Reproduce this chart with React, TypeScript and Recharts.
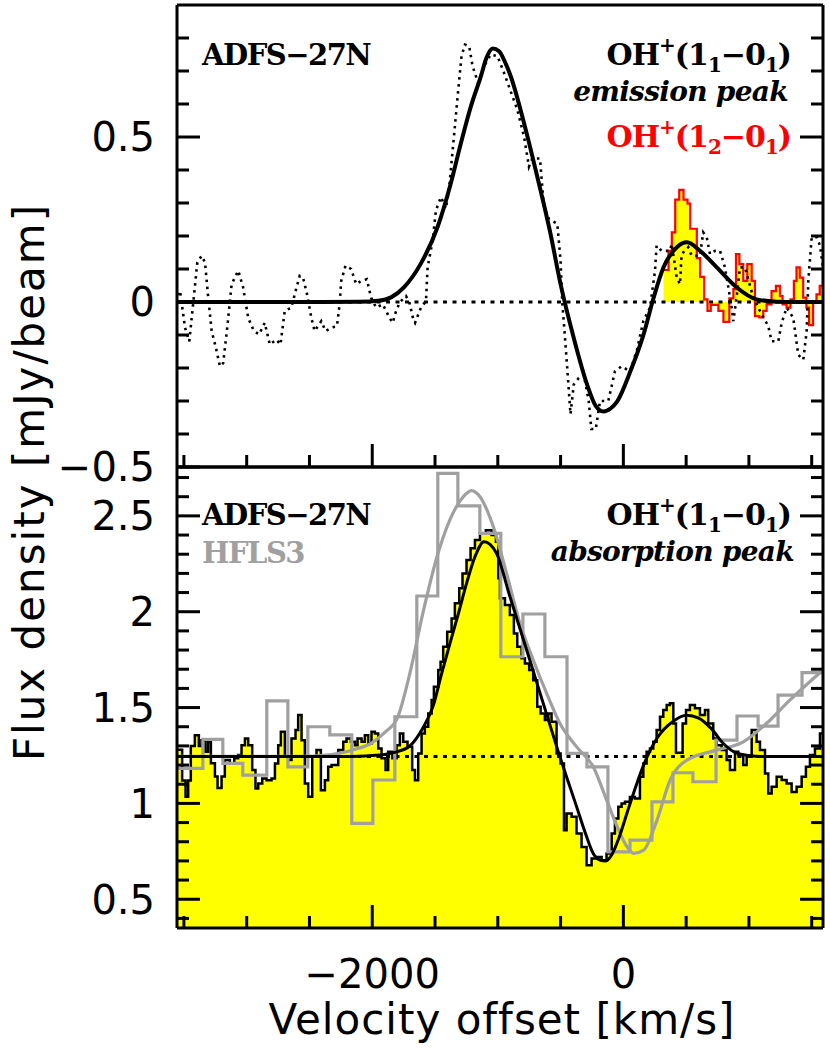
import React from 'react';
import { ComposedChart, Line, Area, XAxis, YAxis, ReferenceLine } from 'recharts';

type Pair = [number, number];

// ---------- axes ----------
const velocityDomain: [number, number] = [-3555, 1590];
const topFluxDomain: [number, number] = [-0.5, 0.9];
const bottomFluxDomain: [number, number] = [0.35, 2.755];

const xMajorTicks = [-2000, 0];
const xMinorTicks = [-3500, -3000, -2500, -1500, -1000, -500, 500, 1000, 1500];
const topMajorTicks = [-0.5, 0, 0.5];
const topMinorTicks = [-0.4, -0.3, -0.2, -0.1, 0.1, 0.2, 0.3, 0.4, 0.6, 0.7, 0.8];
const bottomMajorTicks = [0.5, 1, 1.5, 2, 2.5];
const bottomMinorTicks = [0.4, 0.6, 0.7, 0.8, 0.9, 1.1, 1.2, 1.3, 1.4, 1.6, 1.7, 1.8, 1.9, 2.1, 2.2, 2.3, 2.4, 2.6, 2.7];

const topBaseline = 0;
const bottomBaseline = 1.245;

// ---------- top panel: OH+(1_1-0_1) emission peak ----------
const emissionSpectrum: Pair[] = [
  [-3555, 0.0], [-3531, 0.034], [-3491, -0.078], [-3457, -0.119], [-3425, 0.0], [-3393, 0.12],
  [-3359, 0.14], [-3332, 0.12], [-3306, 0.013], [-3279, -0.088], [-3245, -0.139], [-3213, -0.195],
  [-3187, -0.185], [-3155, -0.078], [-3120, 0.054], [-3067, 0.095], [-3028, 0.044], [-2988, -0.048],
  [-2943, -0.088], [-2901, -0.098], [-2856, -0.063], [-2816, -0.129], [-2763, -0.114], [-2731, -0.129],
  [-2697, -0.027], [-2644, -0.017], [-2610, 0.034], [-2578, 0.079], [-2551, 0.074], [-2519, 0.023],
  [-2485, -0.048], [-2459, -0.088], [-2406, -0.058], [-2372, -0.088], [-2326, -0.078], [-2281, -0.073],
  [-2260, -0.007], [-2247, 0.064], [-2213, 0.11], [-2168, 0.1], [-2128, 0.054], [-2088, 0.064],
  [-2043, 0.069], [-2009, 0.013], [-1969, -0.017], [-1916, -0.007], [-1863, -0.048], [-1837, -0.063],
  [-1810, -0.027], [-1779, 0.0], [-1731, 0.018], [-1705, 0.0], [-1673, -0.053], [-1659, -0.063],
  [-1612, -0.017], [-1572, 0.003], [-1559, 0.105], [-1519, 0.186], [-1493, 0.277], [-1453, 0.318],
  [-1413, 0.283], [-1387, 0.348], [-1347, 0.511], [-1320, 0.623], [-1289, 0.745], [-1262, 0.78],
  [-1228, 0.775], [-1201, 0.715], [-1157, 0.664], [-1109, 0.715], [-1056, 0.75], [-1003, 0.745],
  [-950, 0.694], [-897, 0.638], [-844, 0.582], [-791, 0.501], [-752, 0.41], [-725, 0.435],
  [-664, 0.435], [-633, 0.288], [-593, 0.252], [-526, 0.237], [-500, 0.125], [-487, 0.0],
  [-474, -0.063], [-447, -0.2], [-421, -0.34], [-395, -0.25], [-355, -0.23], [-315, -0.22],
  [-276, -0.3], [-255, -0.385], [-220, -0.385], [-186, -0.3], [-120, -0.3], [-67, -0.21],
  [-14, -0.195], [53, -0.21], [106, -0.149], [159, -0.058], [212, -0.017], [252, 0.095],
  [265, 0.171], [305, 0.155], [371, 0.155], [385, 0.176], [425, 0.074], [451, 0.054],
  [464, 0.145], [517, 0.166], [544, 0.14], [610, 0.14], [636, 0.211], [664, 0.196],
  [690, 0.145], [730, 0.155], [770, 0.155], [809, 0.105], [863, -0.017], [876, -0.058],
  [897, 0.0], [929, 0.105], [969, 0.105], [1035, 0.013], [1088, -0.027], [1154, -0.073],
  [1181, -0.119], [1234, -0.119], [1261, -0.063], [1301, -0.017], [1353, -0.048], [1393, -0.16],
  [1433, -0.175], [1460, -0.088], [1473, 0.064], [1500, 0.196], [1540, 0.196], [1566, 0.171], [1590, 0.105],
];

const emissionFit: Pair[] = [
  [-3555, 0], [-2400, 0], [-2100, 0.001], [-1950, 0.004], [-1850, 0.014], [-1744, 0.046],
  [-1612, 0.117], [-1479, 0.228], [-1374, 0.36], [-1294, 0.481], [-1215, 0.592], [-1135, 0.684],
  [-1090, 0.74], [-1040, 0.768], [-990, 0.76], [-940, 0.725], [-897, 0.684], [-791, 0.542],
  [-685, 0.379], [-580, 0.206], [-500, 0.054], [-395, -0.109], [-288, -0.251], [-220, -0.315],
  [-160, -0.332], [-100, -0.322], [-50, -0.302], [56, -0.21], [161, -0.098], [241, 0.013],
  [320, 0.105], [426, 0.166], [506, 0.181], [611, 0.155], [744, 0.105], [903, 0.044],
  [1062, 0.008], [1220, 0.001], [1400, 0], [1590, 0],
];

const oh12Histogram: Pair[] = [
  [320, 0.097], [360, 0.155], [386, 0.211], [413, 0.31], [445, 0.34], [479, 0.31], [511, 0.298],
  [532, 0.222], [585, 0.133], [611, 0.076], [643, 0.008], [670, -0.027], [696, -0.009], [757, -0.027],
  [797, -0.06], [844, 0.011], [876, 0.039], [897, 0.145], [924, 0.115], [955, 0.064], [987, 0.115],
  [1022, 0.064], [1048, -0.043], [1083, -0.047], [1114, -0.027], [1141, -0.007], [1180, 0.033],
  [1215, 0.049], [1247, 0.018], [1268, -0.007], [1300, -0.017], [1331, 0.008], [1358, 0.064],
  [1379, 0.105], [1405, 0.074], [1432, 0.013], [1458, -0.017], [1479, -0.07], [1511, -0.002],
  [1538, 0.023], [1564, 0.049], [1590, 0.049],
];

// ---------- bottom panel: absorption peak ----------
const adfsHistogram: Pair[] = [
  [-3555, 1.28], [-3514, 1.12], [-3487, 1.035], [-3466, 1.12], [-3445, 1.3], [-3413, 1.356],
  [-3381, 1.3], [-3360, 1.33], [-3328, 1.27], [-3307, 1.32], [-3285, 1.21], [-3253, 1.14],
  [-3232, 1.08], [-3200, 1.14], [-3174, 1.226], [-3134, 1.21], [-3099, 1.235], [-3068, 1.252],
  [-3041, 1.304], [-3014, 1.339], [-2988, 1.304], [-2956, 1.174], [-2930, 1.078], [-2908, 1.104],
  [-2876, 1.13], [-2842, 1.121], [-2802, 1.13], [-2775, 1.208], [-2749, 1.304], [-2728, 1.374],
  [-2696, 1.243], [-2669, 1.226], [-2643, 1.339], [-2611, 1.383], [-2590, 1.461], [-2563, 1.33],
  [-2537, 1.104], [-2510, 1.035], [-2478, 1.243], [-2444, 1.278], [-2409, 1.069], [-2377, 1.121],
  [-2351, 1.191], [-2324, 1.2], [-2271, 1.278], [-2231, 1.322], [-2205, 1.339], [-2170, 1.322],
  [-2138, 1.304], [-2117, 1.339], [-2085, 1.322], [-2059, 1.356], [-2032, 1.313], [-2006, 1.374],
  [-1979, 1.365], [-1952, 1.287], [-1926, 1.235], [-1894, 1.174], [-1873, 1.27], [-1841, 1.235],
  [-1806, 1.304], [-1780, 1.365], [-1753, 1.322], [-1719, 1.296], [-1682, 1.174], [-1660, 1.121],
  [-1634, 1.261], [-1607, 1.365], [-1581, 1.4], [-1554, 1.469], [-1527, 1.539], [-1509, 1.609],
  [-1474, 1.696], [-1456, 1.739], [-1435, 1.817], [-1403, 1.896], [-1368, 1.965], [-1342, 2.044],
  [-1307, 2.122], [-1281, 2.2], [-1249, 2.27], [-1217, 2.331], [-1182, 2.374], [-1142, 2.409],
  [-1095, 2.425], [-1050, 2.4], [-1015, 2.365], [-996, 2.174], [-983, 2.07], [-943, 2.035],
  [-904, 1.983], [-872, 1.887], [-845, 1.817], [-811, 1.757], [-784, 1.73], [-750, 1.696],
  [-718, 1.643], [-686, 1.504], [-659, 1.469], [-625, 1.435], [-598, 1.469], [-572, 1.426],
  [-532, 1.261], [-500, 1.208], [-473, 0.86], [-452, 0.947], [-412, 0.93], [-373, 0.843],
  [-333, 0.773], [-293, 0.678], [-253, 0.713], [-213, 0.721], [-173, 0.704], [-134, 0.739],
  [-93, 0.843], [-67, 0.921], [-40, 0.982], [-14, 1.0], [13, 1.008], [52, 1.034],
  [92, 1.026], [132, 1.139], [159, 1.208], [185, 1.269], [212, 1.287], [238, 1.322],
  [265, 1.383], [292, 1.452], [318, 1.487], [345, 1.513], [371, 1.522], [398, 1.417],
  [419, 1.264], [472, 1.417], [499, 1.487], [530, 1.513], [570, 1.496], [610, 1.461],
  [650, 1.487], [676, 1.417], [716, 1.339], [743, 1.304], [783, 1.278], [822, 1.226],
  [849, 1.174], [889, 1.269], [915, 1.252], [955, 1.2], [982, 1.243], [1022, 1.383],
  [1061, 1.322], [1088, 1.278], [1128, 1.156], [1154, 1.052], [1181, 1.087], [1221, 1.139],
  [1261, 1.122], [1300, 1.104], [1340, 1.06], [1380, 1.087], [1420, 1.139], [1454, 1.191],
  [1486, 1.252], [1526, 1.287], [1566, 1.365], [1590, 1.365],
];

const adfsFit: Pair[] = [
  [-3555, 1.245], [-2200, 1.245], [-2000, 1.25], [-1900, 1.255], [-1800, 1.27], [-1700, 1.3],
  [-1600, 1.39], [-1514, 1.51], [-1450, 1.67], [-1381, 1.835], [-1310, 2.0], [-1249, 2.148],
  [-1180, 2.29], [-1110, 2.365], [-1060, 2.35], [-1010, 2.305], [-903, 2.078], [-770, 1.8],
  [-638, 1.522], [-505, 1.243], [-372, 0.982], [-300, 0.84], [-240, 0.739], [-186, 0.705],
  [-140, 0.7], [-90, 0.735], [-30, 0.83], [29, 0.95], [100, 1.09], [161, 1.2], [268, 1.34],
  [400, 1.43], [504, 1.46], [600, 1.445], [700, 1.39], [800, 1.31], [903, 1.262], [1000, 1.25],
  [1100, 1.245], [1590, 1.245],
];

const hflsHistogram: Pair[] = [
  [-3555, 1.183], [-3349, 1.334], [-3190, 1.209], [-3031, 1.148], [-2840, 1.535], [-2672, 1.191],
  [-2513, 1.4], [-2338, 1.357], [-2163, 0.896], [-1995, 1.122], [-1820, 1.452], [-1645, 2.082],
  [-1478, 2.722], [-1318, 2.552], [-1143, 2.409], [-976, 1.765], [-800, 1.988], [-625, 1.765],
  [-449, 1.261], [-290, 1.191], [-123, 0.747], [53, 0.808], [228, 1.008], [395, 1.16],
  [554, 1.113], [738, 1.33], [905, 1.456], [1073, 1.403], [1232, 1.565], [1423, 1.682], [1590, 1.682],
];

const hflsFit: Pair[] = [
  [-3555, 1.245], [-2600, 1.245], [-2326, 1.255], [-2150, 1.28], [-2009, 1.313], [-1900, 1.37],
  [-1797, 1.45], [-1700, 1.68], [-1594, 2.0], [-1487, 2.28], [-1381, 2.48], [-1275, 2.6],
  [-1210, 2.632], [-1142, 2.6], [-1036, 2.444], [-930, 2.2], [-824, 1.94], [-718, 1.748],
  [-611, 1.574], [-505, 1.417], [-372, 1.295], [-240, 1.191], [-133, 1.017], [-50, 0.88],
  [29, 0.774], [82, 0.739], [161, 0.756], [268, 0.913], [373, 1.122], [506, 1.226],
  [744, 1.278], [955, 1.321], [1141, 1.418], [1326, 1.539], [1590, 1.696],
];

// ---------- helpers ----------
const toRows = (pairs: Pair[]) => pairs.map(([v, f]) => ({ v, f }));
const fmt = (val: number) => (val < 0 ? '\u2212' + String(Math.abs(val)) : String(val));

const SANS = "'DejaVu Sans', sans-serif";
const SERIF = "'DejaVu Serif', serif";
const frameLine = { stroke: '#000', strokeWidth: 3 };
const YELLOW = '#ffff00';
const GRAY = '#a0a0a0';
const MAJOR = 23;
const MINOR = 12;

type Side = 'left' | 'right' | 'top' | 'bottom';

// tick renderer: draws an inward tick mark at the position that the axis gives, and the label if asked
const makeTick = (side: Side, major: number[], withLabel: boolean) => (props: any) => {
  const { x, y, payload } = props;
  const value: number = payload.value;
  const isMajor = major.some((m) => Math.abs(m - value) < 1e-9);
  const len = isMajor ? MAJOR : MINOR;
  const dx = side === 'left' ? len : side === 'right' ? -len : 0;
  const dy = side === 'top' ? len : side === 'bottom' ? -len : 0;
  let label: React.ReactNode = null;
  if (withLabel && isMajor) {
    if (side === 'left') {
      label = (
        <text x={x - 22} y={y} dy="0.36em" textAnchor="end" fontFamily={SANS} fontSize={40} fill="#000">{fmt(value)}</text>
      );
    } else if (side === 'bottom') {
      label = (
        <text x={x} y={y + 32} dy="0.71em" textAnchor="middle" fontFamily={SANS} fontSize={40} fill="#000">{fmt(value)}</text>
      );
    }
  }
  return (
    <g>
      <line x1={x} y1={y} x2={x + dx} y2={y + dy} stroke="#000" strokeWidth={3} />
      {label}
    </g>
  );
};

function frameAxes(yDomain: [number, number], yMajor: number[], yMinor: number[], showXLabels: boolean) {
  const common = {
    type: 'number' as const,
    allowDataOverflow: true,
    interval: 0 as const,
    tickSize: 0,
    tickMargin: 0,
    tickLine: false,
    axisLine: frameLine,
  };
  const xTicks = [...xMajorTicks, ...xMinorTicks].sort((a, b) => a - b);
  const yTicks = [...yMajor, ...yMinor].sort((a, b) => a - b);
  return [
    <XAxis key="xb" xAxisId="x" dataKey="v" orientation="bottom" {...common} domain={velocityDomain}
      ticks={xTicks} height={1} tick={makeTick('bottom', xMajorTicks, showXLabels)} />,
    <XAxis key="xt" xAxisId="xt" orientation="top" {...common} domain={velocityDomain}
      ticks={xTicks} height={1} tick={makeTick('top', xMajorTicks, false)} />,
    <YAxis key="yl" yAxisId="y" orientation="left" {...common} domain={yDomain}
      ticks={yTicks} width={1} tick={makeTick('left', yMajor, true)} />,
    <YAxis key="yr" yAxisId="yr" orientation="right" {...common} domain={yDomain}
      ticks={yTicks} width={1} tick={makeTick('right', yMajor, false)} />,
  ];
}

const W = 830;
const H = 1048;
const layer: React.CSSProperties = { position: 'absolute', left: 0, top: 0, width: W, height: H };

function OHLabel({ x, y, upper, fill }: { x: number; y: number; upper: string; fill: string }) {
  return (
    <text x={x} y={y} textAnchor="end" fontFamily={SERIF} fontWeight="bold" fontSize={30} letterSpacing={-1} fill={fill}>
      OH<tspan dy={-13} fontSize={20}>+</tspan>
      <tspan dy={13}>(1</tspan>
      <tspan dy={7} fontSize={20}>{upper}</tspan>
      <tspan dy={-7}>{'\u22120'}</tspan>
      <tspan dy={7} fontSize={20}>1</tspan>
      <tspan dy={-7}>)</tspan>
    </text>
  );
}

export default function App() {
  return (
    <div style={{ position: 'absolute', left: 0, top: 0, width: W, height: H, background: '#fff', overflow: 'hidden' }}>
      {/* top panel */}
      <div style={layer}>
        <ComposedChart width={W} height={H} margin={{ top: 4, right: 6, bottom: H - 467 - 1, left: 176 }}>
          {frameAxes(topFluxDomain, topMajorTicks, topMinorTicks, false)}
          <Area xAxisId="x" yAxisId="y" data={toRows(oh12Histogram)} dataKey="f" type="stepAfter"
            baseValue={topBaseline} fill={YELLOW} fillOpacity={1} stroke="#ff0000" strokeWidth={2.2}
            dot={false} activeDot={false} isAnimationActive={false} />
          <ReferenceLine xAxisId="x" yAxisId="y" y={topBaseline} stroke="#000" strokeWidth={3} strokeDasharray="4 5.5" />
          <Line xAxisId="x" yAxisId="y" data={toRows(emissionSpectrum)} dataKey="f" type="linear"
            stroke="#000" strokeWidth={2.6} strokeDasharray="2.5 4.5" dot={false} activeDot={false} isAnimationActive={false} />
          <Line xAxisId="x" yAxisId="y" data={toRows(emissionFit)} dataKey="f" type="monotone"
            stroke="#000" strokeWidth={4} dot={false} activeDot={false} isAnimationActive={false} />
        </ComposedChart>
      </div>
      {/* bottom panel */}
      <div style={layer}>
        <ComposedChart width={W} height={H} margin={{ top: 466, right: 6, bottom: H - 928 - 1, left: 176 }}>
          {frameAxes(bottomFluxDomain, bottomMajorTicks, bottomMinorTicks, true)}
          <Area xAxisId="x" yAxisId="y" data={toRows(adfsHistogram)} dataKey="f" type="stepAfter"
            baseValue={bottomFluxDomain[0]} fill={YELLOW} fillOpacity={1} stroke="#000" strokeWidth={2.5}
            dot={false} activeDot={false} isAnimationActive={false} />
          <ReferenceLine xAxisId="x" yAxisId="y" y={bottomBaseline} stroke="#000" strokeWidth={3} strokeDasharray="4 5.5" />
          <Line xAxisId="x" yAxisId="y" data={toRows(hflsHistogram)} dataKey="f" type="stepAfter"
            stroke={GRAY} strokeWidth={3.2} dot={false} activeDot={false} isAnimationActive={false} />
          <Line xAxisId="x" yAxisId="y" data={toRows(hflsFit)} dataKey="f" type="monotone"
            stroke={GRAY} strokeWidth={3.2} dot={false} activeDot={false} isAnimationActive={false} />
          <Line xAxisId="x" yAxisId="y" data={toRows(adfsFit)} dataKey="f" type="monotone"
            stroke="#000" strokeWidth={3} dot={false} activeDot={false} isAnimationActive={false} />
        </ComposedChart>
      </div>
      {/* annotations */}
      <svg style={{ ...layer, pointerEvents: 'none' }} width={W} height={H}>
        <text x={202} y={65} fontFamily={SERIF} fontWeight="bold" fontSize={29} letterSpacing={-1.5} fill="#000">ADFS{'\u2212'}27N</text>
        <OHLabel x={791} y={65} upper="1" fill="#000" />
        <text x={788} y={101} textAnchor="end" fontFamily={SERIF} fontWeight="bold" fontStyle="italic" fontSize={28} letterSpacing={-0.7} fill="#000">emission peak</text>
        <OHLabel x={791} y={147} upper="2" fill="#ff0000" />

        <text x={202} y={525} fontFamily={SERIF} fontWeight="bold" fontSize={29} letterSpacing={-1.5} fill="#000">ADFS{'\u2212'}27N</text>
        <text x={202} y={563} fontFamily={SERIF} fontWeight="bold" fontSize={29} letterSpacing={-1.5} fill={GRAY}>HFLS3</text>
        <OHLabel x={791} y={525} upper="1" fill="#000" />
        <text x={794} y={561} textAnchor="end" fontFamily={SERIF} fontWeight="bold" fontStyle="italic" fontSize={28} letterSpacing={-0.7} fill="#000">absorption peak</text>

        <text x={502} y={1034} textAnchor="middle" fontFamily={SANS} fontSize={42} letterSpacing={1} fill="#000">Velocity offset [km/s]</text>
        <text transform="rotate(-90)" x={-482} y={44} textAnchor="middle" fontFamily={SANS} fontSize={42} letterSpacing={2} fill="#000">Flux density [mJy/beam]</text>
      </svg>
    </div>
  );
}
